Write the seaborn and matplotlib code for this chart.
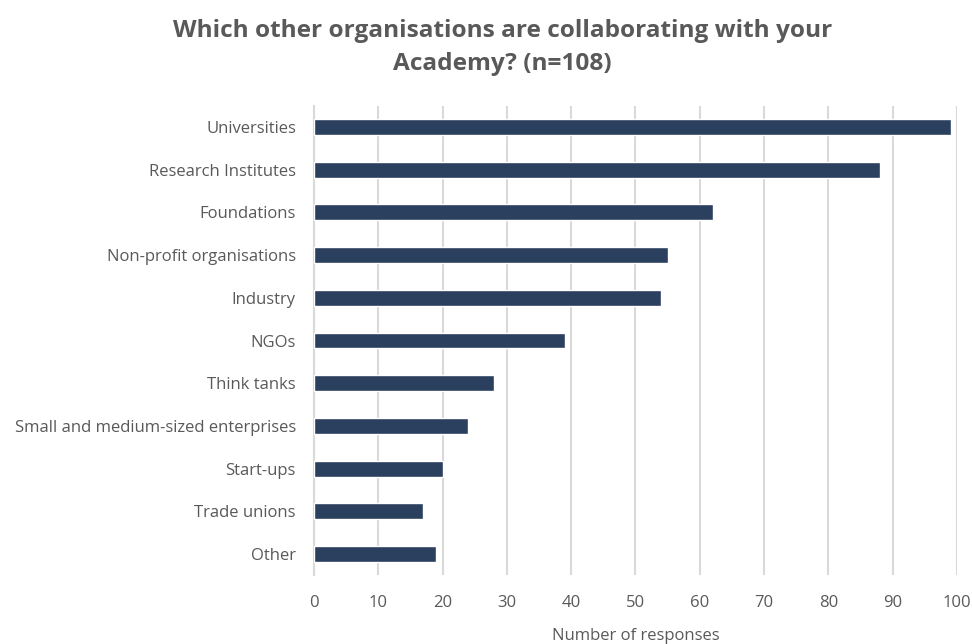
import matplotlib
matplotlib.use("Agg")
import matplotlib.pyplot as plt
import seaborn as sns
import pandas as pd

categories = [
    "Universities",
    "Research Institutes",
    "Foundations",
    "Non-profit organisations",
    "Industry",
    "NGOs",
    "Think tanks",
    "Small and medium-sized enterprises",
    "Start-ups",
    "Trade unions",
    "Other",
]
responses = [99, 88, 62, 55, 54, 39, 28, 24, 20, 17, 19]
x_ticks = [0, 10, 20, 30, 40, 50, 60, 70, 80, 90, 100]

sns.set_theme(style="white")
plt.rcParams["font.family"] = ["Open Sans", "DejaVu Sans"]

text_color = "#595959"
bar_color = "#2B3F5E"
grid_color = "#D9D9D9"

df = pd.DataFrame({"category": categories, "responses": responses})

fig = plt.figure(figsize=(9.72, 6.44), dpi=100)
ax = fig.add_axes([0.323, 0.1065, 0.6615, 0.7295])

sns.barplot(data=df, x="responses", y="category", order=categories,
            color=bar_color, width=0.37, saturation=1, ax=ax, zorder=3)

ax.set_xlim(0, 100)
ax.set_xticks(x_ticks)
ax.set_xticklabels([str(t) for t in x_ticks])
ax.xaxis.grid(True, color=grid_color, linewidth=1.5, zorder=0)
ax.yaxis.grid(False)
ax.set_axisbelow(True)

for side in ["top", "right", "bottom"]:
    ax.spines[side].set_visible(False)
ax.spines["left"].set_color(grid_color)
ax.spines["left"].set_linewidth(1.5)

ax.tick_params(axis="both", length=0, colors=text_color, labelsize=12)
ax.tick_params(axis="x", pad=14)
ax.tick_params(axis="y", pad=13)
ax.set_ylabel("")
ax.set_xlabel("Number of responses", color=text_color, fontsize=12, labelpad=12)

fig.suptitle("Which other organisations are collaborating with your\nAcademy? (n=108)",
             x=0.517, y=0.97, fontsize=17.6, fontweight="bold", color=text_color,
             linespacing=1.47, va="top")

fig.savefig("out.png", dpi=100, facecolor="white")
